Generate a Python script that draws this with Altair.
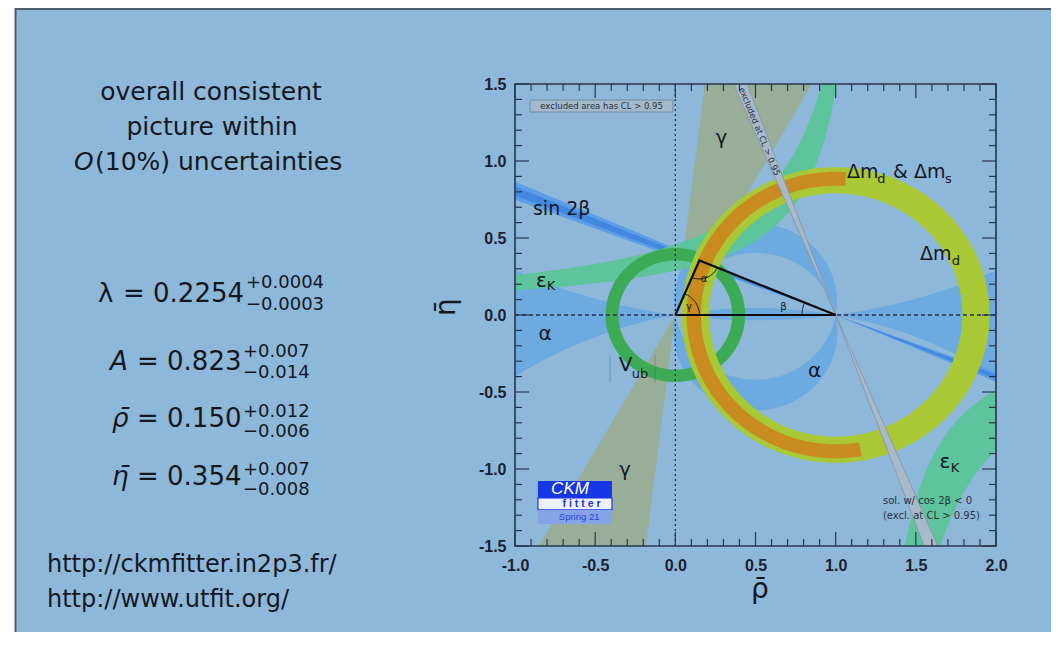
import numpy as np
import pandas as pd
import altair as alt

# ---------------- values ----------------
rho_bar, eta_bar = 0.150, 0.354            # apex of the unitarity triangle

fit_symbols = ["λ", "A", "ρ̄", "η̄"]
fit_values = ["= 0.2254", "= 0.823", "= 0.150", "= 0.354"]
fit_plus = ["+0.0004", "+0.007", "+0.012", "+0.007"]
fit_minus = ["−0.0003", "−0.014", "−0.006", "−0.008"]

heading_lines = ["overall consistent", "picture within", "(10%) uncertainties"]
url_lines = ["http://ckmfitter.in2p3.fr/", "http://www.utfit.org/"]

x_major = [-1.0, -0.5, 0.0, 0.5, 1.0, 1.5, 2.0]
y_major = [-1.5, -1.0, -0.5, 0.0, 0.5, 1.0, 1.5]
x_minor = [round(-1.0 + 0.1 * i, 1) for i in range(31) if i % 5]
y_minor = [round(-1.5 + 0.1 * i, 1) for i in range(31) if i % 5]

# constraint shapes (angles in degrees, lengths in plot units)
gamma_wedge_deg = [60.4, 83.0]            # double wedge around (0,0)
excl_wedge_deg = [110.2, 113.0]           # cos2β<0 solution, around (1,0)
sin2b_outer_deg = [156.6, 159.5]          # sin2β band around (1,0)
sin2b_inner_deg = [157.4, 158.8]
alpha_fan_k = [3.593, -2.70]              # circles through (0,0),(1,0), centre (0.5,k)
alpha_mid_k = [0.0876, -0.108]
epsK_up = [(1.2455, 0.3593), (1.314, 0.6017)]   # eta = C/(x0 - rho)
epsK_lo = [(1.159, 0.41), (1.16, 0.737)]
vub_r = [0.355, 0.435]
dmd_r = [0.79, 0.96]
dms_r = [0.84, 0.93]
dms_deg = [86.0, 280.0]

# ---------------- style ----------------
BG = "#8EB8D9"
INK = "#15171f"
FRAME = "#2A354A"
FONT = "DejaVu Sans"
W, H = 481, 462

X_SCALE = alt.Scale(domain=[-1.0, 2.0], nice=False, zero=False)
Y_SCALE = alt.Scale(domain=[-1.5, 1.5], nice=False, zero=False)
LBL = "replace(format(datum.value, '.1f'), '\u2212', '-')"
X_AXIS = alt.Axis(values=x_major, labelExpr=LBL, labelFont="Liberation Sans", labelFontWeight="bold",
                  labelFontSize=16, labelColor="#1b2130", ticks=False, tickSize=0, domain=False,
                  grid=False, labelPadding=11, labelFlush=False, labelOverlap=False, title=None)
Y_AXIS = alt.Axis(values=y_major, labelExpr=LBL, labelFont="Liberation Sans", labelFontWeight="bold",
                  labelFontSize=16, labelColor="#1b2130", ticks=False, tickSize=0, domain=False,
                  grid=False, labelPadding=9, labelFlush=False, labelOverlap=False, title=None)


def ex(f="x"):
    return alt.X(f"{f}:Q", scale=X_SCALE, axis=X_AXIS)


def ey(f="y"):
    return alt.Y(f"{f}:Q", scale=Y_SCALE, axis=Y_AXIS)


# ---------------- geometry helpers ----------------
def arc_pts(cx, cy, r, a1, a2, n=200):
    t = np.radians(np.linspace(a1, a2, n))
    return cx + r * np.cos(t), cy + r * np.sin(t)


def ring_poly(cx, cy, r_in, r_out, a1=0.0, a2=360.0, n=260):
    xo, yo = arc_pts(cx, cy, r_out, a1, a2, n)
    xi, yi = arc_pts(cx, cy, r_in, a2, a1, n)
    return np.r_[xo, xi], np.r_[yo, yi]


def double_wedge(cx, cy, a1, a2, L=6.0):
    xs, ys = [cx], [cy]
    for base in (0.0, 180.0):
        for a in (a1 + base, a2 + base):
            xs.append(cx + L * np.cos(np.radians(a)))
            ys.append(cy + L * np.sin(np.radians(a)))
        xs.append(cx)
        ys.append(cy)
    return np.array(xs), np.array(ys)


def chord_angles(k):
    t_one = np.degrees(np.arctan2(-k, 0.5))
    t_zero = np.degrees(np.arctan2(-k, -0.5)) % 360
    return t_one, t_zero


def poly(xs, ys, color, stroke=None):
    df = pd.DataFrame({"x": np.round(xs, 5), "y": np.round(ys, 5), "i": np.arange(len(xs))})
    kw = dict(filled=True, color=color, clip=True, interpolate="linear")
    if stroke:
        kw.update(stroke=stroke, strokeWidth=0.8)
    else:
        kw.update(strokeWidth=0)
    return alt.Chart(df).mark_line(**kw).encode(x=ex(), y=ey(), order="i:Q")


def line(xs, ys, color, width=1.0, dash=None):
    df = pd.DataFrame({"x": np.round(xs, 5), "y": np.round(ys, 5), "i": np.arange(len(xs))})
    kw = dict(color=color, strokeWidth=width, clip=True)
    if dash:
        kw["strokeDash"] = dash
    return alt.Chart(df).mark_line(**kw).encode(x=ex(), y=ey(), order="i:Q")


def dtext(rows, size, align="center", baseline="middle", color=INK, font=FONT, **kw):
    df = pd.DataFrame(rows, columns=["x", "y", "t"])
    return alt.Chart(df).mark_text(font=font, fontSize=size, align=align, baseline=baseline,
                                   color=color, **kw).encode(x=ex(), y=ey(), text="t:N")


def ptext(t, dx, dy, size, align="left", baseline="alphabetic", **kw):
    df = pd.DataFrame({"t": [t]})
    return alt.Chart(df).mark_text(font=FONT, fontSize=size, align=align, baseline=baseline,
                                   color=INK, **kw).encode(x=alt.value(dx), y=alt.value(dy), text="t:N")


def drect(x1, x2, y1, y2, **kw):
    df = pd.DataFrame({"x": [x1], "x2": [x2], "y": [y1], "y2": [y2]})
    return alt.Chart(df).mark_rect(**kw).encode(x=ex(), x2="x2:Q", y=ey(), y2="y2:Q")


layers = []

# slide decoration: white margin + border
one = pd.DataFrame({"a": [0]})
layers.append(alt.Chart(one).mark_rect(color="white").encode(
    x=alt.value(-508), x2=alt.value(-500), y=alt.value(-77), y2=alt.value(560)))
layers.append(alt.Chart(one).mark_rule(color="#4E5D6E", strokeWidth=2).encode(
    x=alt.value(-499.5), y=alt.value(-76), y2=alt.value(560)))
layers.append(alt.Chart(one).mark_rule(color="#4E5D6E", strokeWidth=2).encode(
    x=alt.value(-500), x2=alt.value(560), y=alt.value(-75)))

# γ double wedge
layers.append(poly(*double_wedge(0.0, 0.0, *gamma_wedge_deg), "#98AE98"))

# α : lens/fans around the real axis
xs = np.linspace(-1.0, 2.0, 400)
curves = []
for k in alpha_fan_k:
    R = np.hypot(0.5, k)
    curves.append(k - np.sign(k) * np.sqrt(R ** 2 - (xs - 0.5) ** 2))
layers.append(poly(np.r_[xs, xs[::-1]], np.r_[curves[0], curves[1][::-1]], "#6CAAE0"))

# α : central crescents
kA, kB = alpha_mid_k
RA, RB = np.hypot(0.5, kA), np.hypot(0.5, kB)
tA1, tA0 = chord_angles(kA)
tB1, tB0 = chord_angles(kB)
ax1, ay1 = arc_pts(0.5, kA, RA, tA1, tA0, 200)
bx1, by1 = arc_pts(0.5, kB, RB, tB0, tB1, 200)
layers.append(poly(np.r_[ax1, bx1], np.r_[ay1, by1], "#6CAAE0"))
bx2, by2 = arc_pts(0.5, kB, RB, tB0, tB1 + 360, 200)
ax2, ay2 = arc_pts(0.5, kA, RA, tA1 + 360, tA0, 200)
layers.append(poly(np.r_[bx2, ax2], np.r_[by2, ay2], "#6CAAE0"))

# sin 2β
layers.append(poly(*double_wedge(1.0, 0.0, *sin2b_outer_deg), "#5B9DE6"))
layers.append(poly(*double_wedge(1.0, 0.0, *sin2b_inner_deg), "#4387E0"))

# ε_K hyperbola branches
(x01, c1), (x02, c2) = epsK_up
xu = np.linspace(-1.0, x01 - c1 / 1.5, 700)
yu_in = np.minimum(c1 / (x01 - xu), 1.5)
yu_out = np.minimum(c2 / (x02 - xu), 1.5)
layers.append(poly(np.r_[xu, xu[::-1]], np.r_[yu_out, yu_in[::-1]], "#5DC49C"))
(x03, c3), (x04, c4) = epsK_lo
xl = np.linspace(x03 + c3 / 1.5, 2.0, 400)
yl_in = np.maximum(-c3 / (xl - x03), -1.5)
yl_out = np.maximum(-c4 / (xl - x04), -1.5)
layers.append(poly(np.r_[xl, xl[::-1]], np.r_[yl_in, yl_out[::-1]], "#5DC49C"))

# |Vub| ring
layers.append(poly(*ring_poly(0.0, 0.0, *vub_r), "#3DAA55"))
# Δmd ring and Δmd & Δms arc
layers.append(poly(*ring_poly(1.0, 0.0, *dmd_r), "#A8C836"))
layers.append(poly(*ring_poly(1.0, 0.0, dms_r[0], dms_r[1], dms_deg[0], dms_deg[1]), "#C98B20"))

# excluded (cos 2β < 0) narrow wedge
layers.append(poly(*double_wedge(1.0, 0.0, *excl_wedge_deg), "#A8B9CA", stroke="#8294A8"))

# dashed reference axes
layers.append(alt.Chart(pd.DataFrame({"x": [0.0], "y": [-1.5], "y2": [1.5]})).mark_rule(
    color="#24304A", strokeWidth=1.3, strokeDash=[2, 3]).encode(x=ex(), y=ey(), y2="y2:Q"))
layers.append(alt.Chart(pd.DataFrame({"x": [-1.0], "x2": [2.0], "y": [0.0]})).mark_rule(
    color="#24304A", strokeWidth=1.3, strokeDash=[4, 3]).encode(x=ex(), x2="x2:Q", y=ey()))

# unitarity triangle
tri_x = [0.0, rho_bar, 1.0, 0.0]
tri_y = [0.0, eta_bar, 0.0, 0.0]
layers.append(line(tri_x, tri_y, "#0c0c10", 2.2))
g_ang = np.degrees(np.arctan2(eta_bar, rho_bar))
b_ang = np.degrees(np.arctan2(eta_bar, 1.0 - rho_bar))
layers.append(line(*arc_pts(0.0, 0.0, 0.15, 0.0, g_ang, 40), "#0c0c10", 1.0))
layers.append(line(*arc_pts(rho_bar, eta_bar, 0.12, g_ang - 180.0, -b_ang, 40), "#0c0c10", 1.0))
layers.append(line(*arc_pts(1.0, 0.0, 0.21, 180.0 - b_ang, 180.0, 40), "#0c0c10", 1.0))

# |Vub| faint bars
for xb in (-0.407, -0.127):
    layers.append(alt.Chart(pd.DataFrame({"x": [xb], "y": [-0.26], "y2": [-0.435]})).mark_rule(
        color="#33405a", strokeWidth=1, opacity=0.3).encode(x=ex(), y=ey(), y2="y2:Q"))

# in-plot labels
layers.append(dtext([(0.288, 1.149, "γ"), (-0.813, -0.123, "α"), (-0.314, -1.006, "γ"),
                     (0.868, -0.364, "α"), (-0.835, 0.223, "ε"), (1.682, -0.952, "ε"),
                     (-0.311, -0.325, "V")], 20))
layers.append(dtext([(-0.776, 0.188, "K"), (1.744, -0.994, "K"), (-0.220, -0.383, "ub")], 13))
layers.append(dtext([(0.179, 0.234, "α"), (0.085, 0.049, "γ"), (0.675, 0.049, "β")], 10))
layers.append(dtext([(-0.888, 0.649, "sin 2β"), (1.071, 0.890, "Δm"), (1.358, 0.890, "& Δm"),
                     (1.526, 0.357, "Δm")], 19, align="left", baseline="alphabetic"))
layers.append(dtext([(1.259, 0.855, "d"), (1.682, 0.855, "s"), (1.724, 0.325, "d")], 13,
                    align="left", baseline="alphabetic"))
layers.append(dtext([(1.295, -1.208, "sol. w/ cos 2β < 0"), (1.295, -1.305, "(excl. at CL > 0.95)")],
                    10, align="left", color="#27303d"))

# "excluded area" box
layers.append(drect(-0.906, -0.015, 1.318, 1.396, color="#A3BACD", stroke="#6E8193", strokeWidth=0.8))
layers.append(dtext([(-0.46, 1.357, "excluded area has CL > 0.95")], 8.5, color="#27303d"))
layers.append(dtext([(0.525, 1.192, "excluded at CL > 0.95")], 8.5, color="#27303d", angle=67.6))

# CKMfitter logo
layers.append(drect(-0.857, -0.395, -1.188, -1.078, color="#1736E6"))
layers.append(drect(-0.857, -0.395, -1.266, -1.188, color="#EEF2FF", stroke="#1736E6", strokeWidth=1.2))
layers.append(drect(-0.857, -0.395, -1.357, -1.266, color="#86A3E8"))
layers.append(dtext([(-0.657, -1.133, "CKM")], 17, color="white", fontStyle="italic",
                    font="Liberation Sans"))
layers.append(dtext([(-0.585, -1.227, "f i t t e r")], 10.5, color="#1736E6", fontWeight="bold",
                    font="Liberation Sans"))
layers.append(dtext([(-0.60, -1.311, "Spring 21")], 9.5, color="#2444D8", font="Liberation Sans"))


# ticks (inward) on all four sides
def ticks_x(vals, y_a, y_b):
    return alt.Chart(pd.DataFrame({"v": vals})).mark_rule(color=FRAME, strokeWidth=1.2).encode(
        x=ex("v"), y=alt.value(y_a), y2=alt.value(y_b))


def ticks_y(vals, x_a, x_b):
    return alt.Chart(pd.DataFrame({"v": vals})).mark_rule(color=FRAME, strokeWidth=1.2).encode(
        y=ey("v"), x=alt.value(x_a), x2=alt.value(x_b))


layers += [ticks_x(x_major, H, H - 14), ticks_x(x_minor, H, H - 7),
           ticks_x(x_major, 0, 14), ticks_x(x_minor, 0, 7),
           ticks_y(y_major, 0, 14), ticks_y(y_minor, 0, 7),
           ticks_y(y_major, W, W - 14), ticks_y(y_minor, W, W - 7)]

# frame
layers.append(alt.Chart(one).mark_rect(fillOpacity=0, stroke=FRAME, strokeWidth=1.6).encode(
    x=alt.value(0), x2=alt.value(W), y=alt.value(0), y2=alt.value(H)))

# axis titles
layers.append(ptext("ρ̄", 245, 514, 28, align="center"))
layers.append(ptext("η̄", -68, 223, 28, align="center", baseline="middle", angle=270))

# left panel text
layers.append(ptext(heading_lines[0], -304, 16, 25, align="center"))
layers.append(ptext(heading_lines[1], -303, 51, 25, align="center"))
layers.append(ptext("O", -441, 86, 25, fontStyle="italic"))
layers.append(ptext(heading_lines[2], -420, 86, 25))

sym_dx = [-417, -405, -403, -403]
val_dx = [-392, -378, -378, -378]
sup_dx = [-269, -272, -272, -272]
base_dy = [217.7, 286, 342.7, 401]
sup_dy = [204, 273, 333, 391]
sub_dy = [226, 294, 353, 411]
for i in range(4):
    kw = {} if i == 0 else {"fontStyle": "italic"}
    layers.append(ptext(fit_symbols[i], sym_dx[i], base_dy[i], 26, **kw))
    layers.append(ptext(fit_values[i], val_dx[i], base_dy[i], 26))
    layers.append(ptext(fit_plus[i], sup_dx[i], sup_dy[i], 18))
    layers.append(ptext(fit_minus[i], sup_dx[i], sub_dy[i], 18))

layers.append(ptext(url_lines[0], -468, 487.7, 24))
layers.append(ptext(url_lines[1], -468, 522.7, 24))

chart = alt.layer(*layers).properties(
    width=W, height=H,
    padding={"left": 507, "top": 76, "right": 55, "bottom": 86},
    autosize=alt.AutoSizeParams(type="none"),
    background=BG,
).configure_view(strokeWidth=0)

chart.save("out.html", embed_options={"renderer": "svg", "actions": False})
